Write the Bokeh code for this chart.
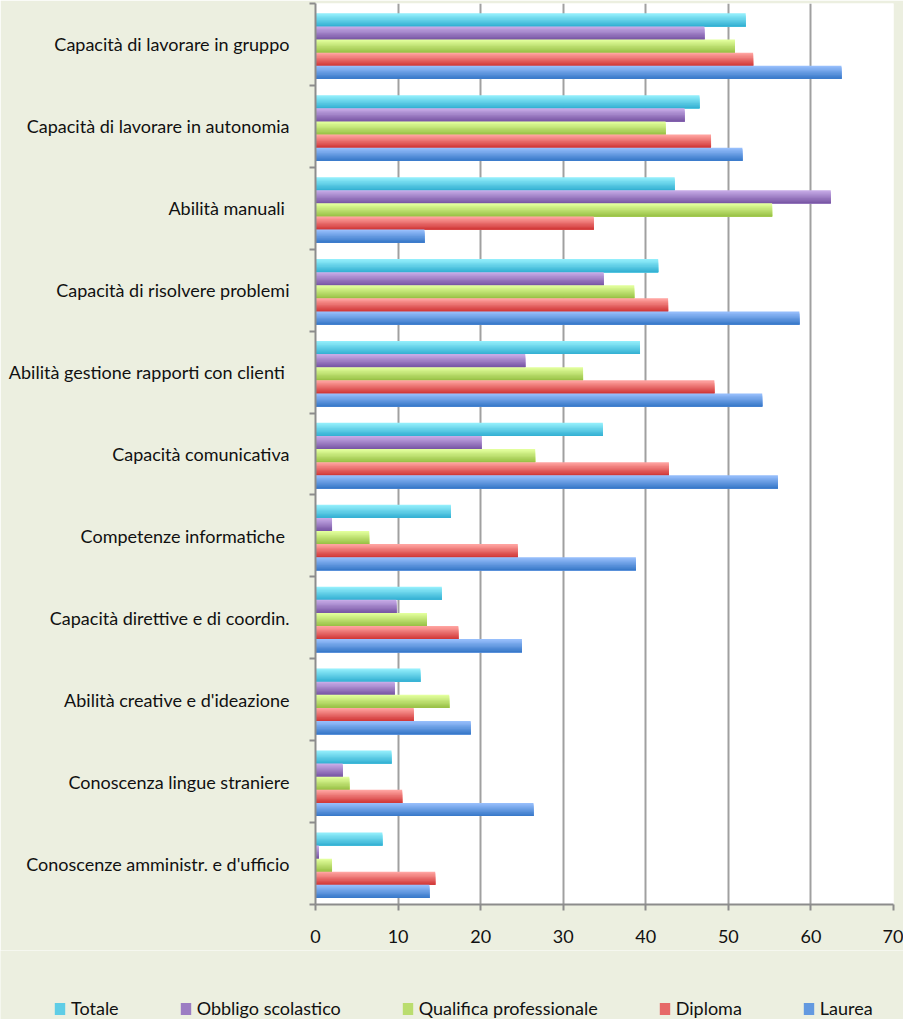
import numpy as np
from bokeh.plotting import figure
from bokeh.layouts import column
from bokeh.models import Range1d, FixedTicker, Legend, LegendItem
from bokeh.embed import file_html
from bokeh.resources import INLINE

categories = [
    "Capacità di lavorare in gruppo",
    "Capacità di lavorare in autonomia",
    "Abilità manuali ",
    "Capacità di risolvere problemi",
    "Abilità gestione rapporti con clienti ",
    "Capacità comunicativa",
    "Competenze informatiche ",
    "Capacità direttive e di coordin.",
    "Abilità creative e d'ideazione",
    "Conoscenza lingue straniere",
    "Conoscenze amministr. e d'ufficio",
]
series = ["Totale", "Obbligo scolastico", "Qualifica professionale", "Diploma", "Laurea"]
totale = [52.1, 46.5, 43.5, 41.5, 39.3, 34.8, 16.4, 15.3, 12.7, 9.2, 8.1]
obbligo = [47.1, 44.7, 62.4, 34.9, 25.4, 20.1, 2.0, 9.8, 9.6, 3.3, 0.4]
qualifica = [50.8, 42.4, 55.3, 38.6, 32.4, 26.6, 6.5, 13.5, 16.2, 4.1, 2.0]
diploma = [53.0, 47.9, 33.7, 42.7, 48.3, 42.8, 24.5, 17.3, 11.9, 10.5, 14.5]
laurea = [63.7, 51.7, 13.2, 58.6, 54.1, 56.0, 38.8, 25.0, 18.8, 26.4, 13.8]
x_ticks = [0, 10, 20, 30, 40, 50, 60, 70]

values = [totale, obbligo, qualifica, diploma, laurea]
top_colors = ["#92EEFB", "#C6AAE6", "#E2FF9C", "#FFA3A0", "#96BEFB"]
bot_colors = ["#36B2D4", "#7A58A6", "#9AC248", "#D23A3A", "#3A7ACA"]

FONT = "Lato"
FS = "18px"
TXT = "#111111"
BG = "#ECEFE0"
AX = "#8C8C8C"

n_cat = len(categories)
p = figure(width=903, height=950, output_backend="svg", toolbar_location=None,
           x_range=Range1d(0, 70), y_range=Range1d(-0.5, n_cat - 0.5),
           min_border_left=315, min_border_right=10, min_border_top=3,
           min_border_bottom=46)
p.frame_align = False
p.background_fill_color = "white"
p.border_fill_color = BG
p.outline_line_color = None


def hex2rgb(h):
    return np.array([int(h[i:i + 2], 16) for i in (1, 3, 5)], dtype=float)


def rgb2hex(c):
    return "#%02x%02x%02x" % tuple(int(round(v)) for v in c)


centers = np.arange(n_cat)[::-1].astype(float)  # first category on top
bar_h = 0.16
n_str = 10
mid_colors = []
for s, vals in enumerate(values):
    off = (2 - s) * bar_h - 0.02
    top = centers + off + bar_h / 2
    bottom = centers + off - bar_h / 2
    c0 = hex2rgb(top_colors[s])
    c1 = hex2rgb(bot_colors[s])
    for k in range(n_str):
        t = k / (n_str - 1)
        col = rgb2hex(c0 * (1 - t) + c1 * t)
        stripe_top = top - bar_h * k / n_str
        p.hbar(y=(stripe_top + bottom) / 2, right=vals, left=0,
               height=bar_h * (n_str - k) / n_str,
               fill_color=col, line_color=None)
    mid_colors.append(rgb2hex(c0 * 0.45 + c1 * 0.55))

p.xgrid.grid_line_color = "#A0A0A0"
p.xgrid.grid_line_width = 2
p.xgrid.ticker = FixedTicker(ticks=x_ticks)
p.ygrid.grid_line_color = None

xa = p.xaxis[0]
xa.ticker = FixedTicker(ticks=x_ticks)
xa.axis_line_color = AX
xa.axis_line_width = 2
xa.major_tick_line_color = AX
xa.major_tick_line_width = 2
xa.major_tick_in = 0
xa.major_tick_out = 6
xa.minor_tick_line_color = None
xa.major_label_text_font = FONT
xa.major_label_text_font_size = FS
xa.major_label_text_color = TXT
xa.major_label_standoff = 19

ya = p.yaxis[0]
ya.ticker = FixedTicker(ticks=list(range(n_cat)),
                        minor_ticks=[i - 0.5 for i in range(n_cat + 1)])
ya.major_label_overrides = {n_cat - 1 - i: c for i, c in enumerate(categories)}
ya.axis_line_color = AX
ya.axis_line_width = 2
ya.major_tick_line_color = None
ya.major_tick_in = 0
ya.major_tick_out = 0
ya.minor_tick_line_color = AX
ya.minor_tick_line_width = 2
ya.minor_tick_in = 0
ya.minor_tick_out = 6
ya.major_label_text_font = FONT
ya.major_label_text_font_size = FS
ya.major_label_text_color = TXT
ya.major_label_standoff = 20

# legend strip below the chart (its own small figure; series bars lie out of view)
p2 = figure(width=903, height=69, output_backend="svg", toolbar_location=None,
            x_range=Range1d(-2, -1), y_range=Range1d(-0.5, n_cat - 0.5),
            min_border_left=0, min_border_right=0, min_border_top=0,
            min_border_bottom=0)
p2.frame_align = False
p2.axis.visible = False
p2.grid.grid_line_color = None
p2.outline_line_color = None
p2.background_fill_color = BG
p2.border_fill_color = BG
items = []
for s, (name, vals) in enumerate(zip(series, values)):
    r = p2.hbar(y=centers, right=vals, left=0, height=bar_h,
                fill_color=mid_colors[s], line_color=None)
    items.append(LegendItem(label=name, renderers=[r]))
legend = Legend(items=items, orientation="horizontal", location=(53, 0),
                background_fill_alpha=0, border_line_color=None,
                padding=0, margin=0, spacing=60, label_standoff=5,
                glyph_width=13, glyph_height=15, label_height=15,
                label_text_font=FONT, label_text_font_size=FS,
                label_text_color=TXT)
p2.add_layout(legend, "center")

layout = column(p, p2, spacing=0)
open("out.html", "w").write(file_html(layout, INLINE))
